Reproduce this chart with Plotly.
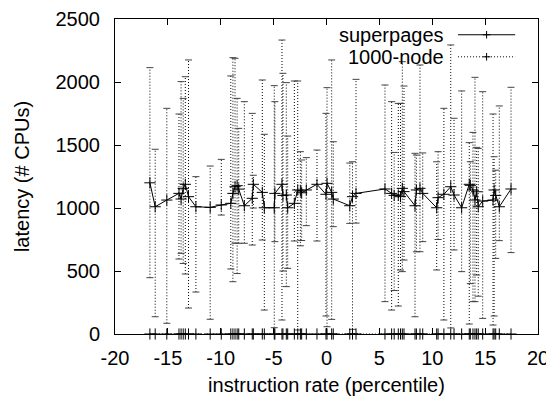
import plotly.graph_objects as go

# ---- data ----
x_vals = [-16.70, -16.20, -15.10, -13.95, -13.75, -13.55, -13.35, -13.05, -12.35, -11.00,
          -9.95, -9.05, -8.85, -8.65, -8.45, -8.30, -7.77, -7.02, -6.92, -6.07,
          -5.88, -4.94, -4.88, -4.21, -4.12, -3.80, -3.67, -3.04, -2.72, -2.47,
          -2.35, -1.91, -0.90, -0.05, 0.05, 0.49, 0.64, 2.20, 2.46, 2.79,
          5.53, 6.16, 6.40, 6.79, 7.00, 7.17, 7.33, 8.37, 8.50, 8.84,
          9.10, 10.42, 10.55, 11.10, 11.75, 12.06, 12.78, 13.50, 13.60, 13.85,
          14.04, 14.20, 14.35, 14.77, 15.75, 15.85, 16.00, 16.34, 17.45]

superpages = [1200, 1010, 1063, 1116, 1071, 1156, 1188, 1090, 1010, 1005,
              1024, 1037, 1116, 1169, 1177, 1150, 1018, 1077, 1188, 1124,
              1002, 1002, 1116, 1188, 1100, 1103, 1002, 1037, 1143, 1135,
              1121, 1143, 1188, 1109, 1196, 1124, 1071, 1018, 1090, 1116,
              1151, 1116, 1100, 1103, 1090, 1156, 1130, 1018, 1143, 1156,
              1116, 1002, 1082, 1109, 1169, 1103, 1002, 1188, 1180, 1143,
              1063, 1129, 1010, 1055, 1063, 1143, 1100, 1010, 1151]

node_y = [0] * len(x_vals)

node_low = [447, 137, 85, 595, 640, 560, 476, 206, 333, 117,
            944, 516, 415, 720, 480, 720, 720, 706, 1000, 746,
            190, 50, 733, 111, 500, 376, 521, 738, 32, 700,
            742, 860, 738, 143, 58, 116, 852, 878, 37, 880,
            257, 190, 345, 222, 508, 495, 587, 137, 653, 653,
            733, 508, 750, 111, 48, 667, 495, 79, 400, 257,
            257, 468, 300, 124, 71, 143, 600, 741, 646]

node_high = [2114, 1466, 1791, 1746, 2003, 1870, 2042, 2175, 1249, 1333,
             1386, 2048, 2193, 2188, 1870, 1632, 1844, 1751, 1260, 2016,
             1585, 1971, 1844, 2333, 2069, 1995, 1571, 2008, 2008, 1447,
             1381, 1400, 1460, 1751, 1955, 2175, 1526, 1357, 1367, 2021,
             1976, 1844, 1441, 1830, 1830, 2161, 1968, 1434, 1420, 2135,
             1437, 1367, 1447, 1791, 2294, 1712, 1929, 1519, 1367, 1600,
             2037, 1481, 1473, 1923, 1746, 1407, 1300, 1810, 1958]

x_ticks = [-20, -15, -10, -5, 0, 5, 10, 15, 20]
y_ticks = [0, 500, 1000, 1500, 2000, 2500]

FONT = "Liberation Sans, Arial, Helvetica, sans-serif"
FS = 20

# error-bar segments built from the data arrays
seg_x, seg_y = [], []
for xv, lo, hi in zip(x_vals, node_low, node_high):
    seg_x += [xv, xv, None]
    seg_y += [lo, hi, None]

cap_x = x_vals + x_vals
cap_y = node_low + node_high

fig = go.Figure()
fig.add_trace(go.Scatter(
    x=seg_x, y=seg_y, mode="lines", showlegend=False, hoverinfo="skip",
    line=dict(color="black", width=1, dash="1px,2px")))
fig.add_trace(go.Scatter(
    x=cap_x, y=cap_y, mode="markers", showlegend=False, hoverinfo="skip",
    marker=dict(symbol="line-ew", size=5, line=dict(color="#444", width=1))))
fig.add_trace(go.Scatter(
    x=x_vals, y=node_y, mode="lines+markers", name="1000-node", cliponaxis=False,
    line=dict(color="black", width=1, dash="1px,2px"),
    marker=dict(symbol="cross-thin", size=8, line=dict(color="black", width=1))))
fig.add_trace(go.Scatter(
    x=x_vals, y=superpages, mode="lines+markers", name="superpages",
    line=dict(color="black", width=1),
    marker=dict(symbol="cross-thin", size=8, line=dict(color="black", width=1))))

axis_common = dict(
    showline=True, linecolor="black", linewidth=1, mirror="allticks",
    ticks="inside", ticklen=6, tickwidth=1, tickcolor="black",
    showgrid=False, zeroline=False, automargin=False,
    tickfont=dict(family=FONT, size=FS, color="black"),
)

fig.update_xaxes(range=[-20, 20], tickvals=x_ticks, ticktext=[str(v) for v in x_ticks],
                 title=dict(text="instruction rate (percentile)", standoff=18,
                            font=dict(family=FONT, size=FS, color="black")),
                 ticklabelstandoff=6, **axis_common)
fig.update_yaxes(range=[0, 2500], tickvals=y_ticks, ticktext=[str(v) for v in y_ticks],
                 title=dict(text="latency (# CPUs)", standoff=20,
                            font=dict(family=FONT, size=FS, color="black")),
                 ticklabelstandoff=10, **axis_common)

# gnuplot-style key: text on the left, sample on the right
legend_rows = [("superpages", "solid", 0.950), ("1000-node", "1px,2px", 0.880)]
shapes, annotations = [], []
for label, dash, yp in legend_rows:
    annotations.append(dict(xref="paper", yref="paper", x=0.783, y=yp, text=label,
                            showarrow=False, xanchor="right", yanchor="middle",
                            font=dict(family=FONT, size=FS, color="black")))
    shapes.append(dict(type="line", xref="paper", yref="paper", x0=0.811, x1=0.946,
                       y0=yp, y1=yp, line=dict(color="black", width=1, dash=dash)))
    shapes.append(dict(type="line", xref="paper", yref="paper", x0=0.8785 - 0.009, x1=0.8785 + 0.009,
                       y0=yp, y1=yp, line=dict(color="black", width=1)))
    shapes.append(dict(type="line", xref="paper", yref="paper", x0=0.8785, x1=0.8785,
                       y0=yp - 0.012, y1=yp + 0.012, line=dict(color="black", width=1)))

# page body has an 8px default margin, so the figure is made 8px smaller
fig.update_layout(
    width=546, height=388,
    margin=dict(l=107, r=16, t=11, b=62),
    paper_bgcolor="white", plot_bgcolor="white",
    showlegend=False,
    shapes=shapes, annotations=annotations,
    font=dict(family=FONT, size=FS, color="black"),
)

fig.write_html("out.html")
